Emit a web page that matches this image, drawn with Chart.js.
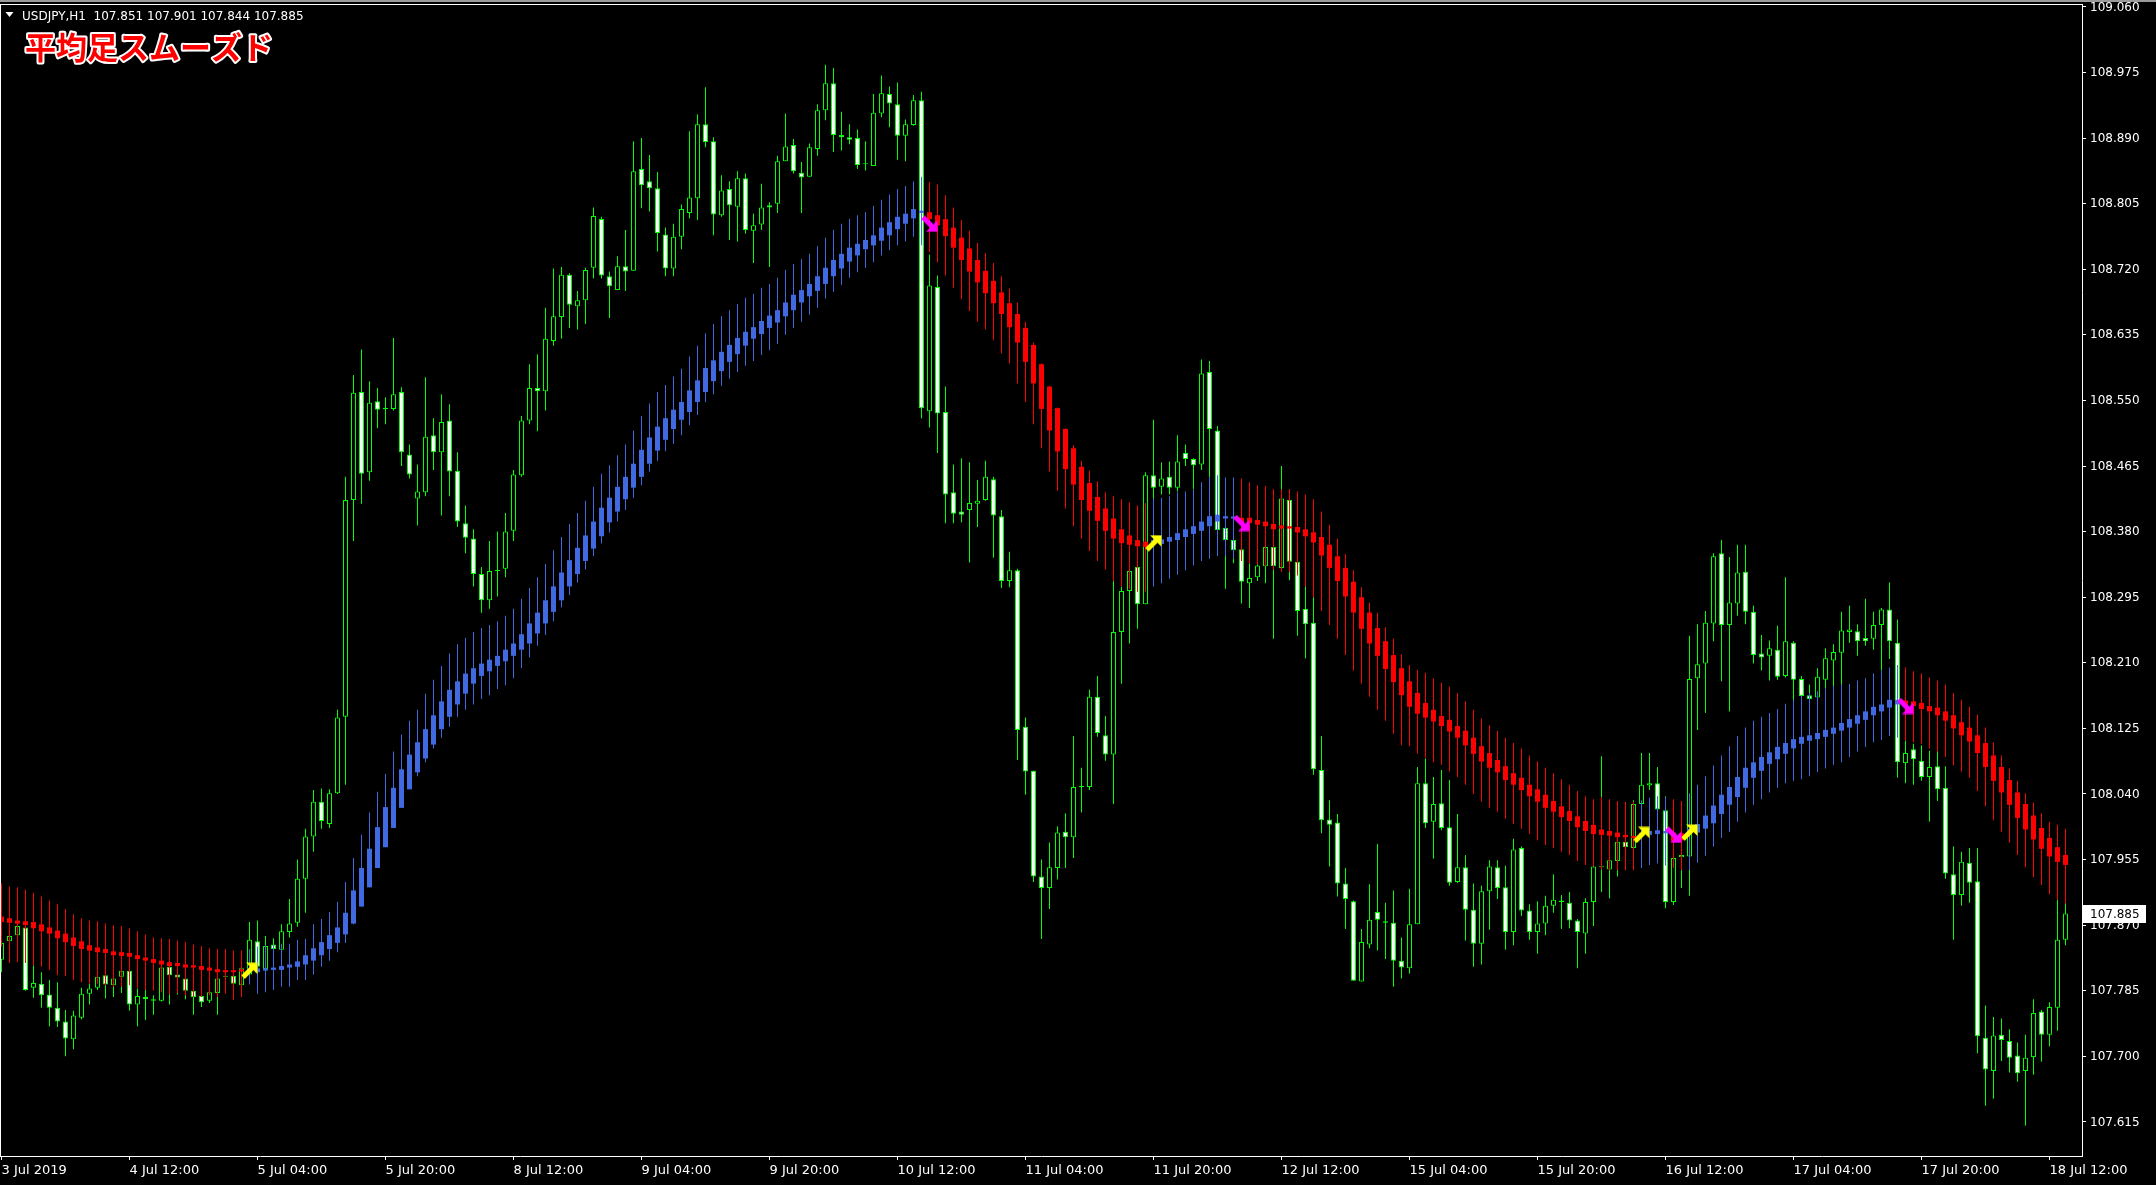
<!DOCTYPE html>
<html>
<head>
<meta charset="utf-8">
<title>USDJPY H1 平均足スムーズド</title>
<script src="https://cdn.jsdelivr.net/npm/chart.js@4.4.0/dist/chart.umd.min.js"></script>
<style>
  html, body { margin: 0; padding: 0; background: #000; overflow: hidden; }
  canvas { display: block; }
</style>
</head>
<body>
<canvas id="chart" width="2156" height="1185"></canvas>
<script>
// USDJPY H1 candles, one value per bar (bar 0 = first bar on screen)
const opens = [
  107.825,107.849,107.857,107.867,107.789,107.794,107.780,107.763,107.745,107.722,
  107.750,107.781,107.789,107.805,107.792,107.803,107.811,107.767,107.777,107.772,
  107.772,107.816,107.806,107.801,107.785,107.778,107.772,107.782,107.803,107.804,
  107.792,107.806,107.849,107.813,107.845,107.838,107.861,107.873,107.930,107.985,
  108.030,108.001,108.041,108.140,108.421,108.561,108.457,108.549,108.539,108.539,
  108.561,108.480,108.423,108.431,108.505,108.483,108.524,108.459,108.391,108.371,
  108.325,108.291,108.329,108.332,108.381,108.453,108.524,108.566,108.562,108.627,
  108.658,108.713,108.672,108.680,108.722,108.785,108.711,108.693,108.724,108.718,
  108.850,108.834,108.825,108.765,108.721,108.762,108.793,108.812,108.908,108.886,
  108.790,108.824,108.801,108.838,108.770,108.778,108.803,108.805,108.860,108.881,
  108.845,108.840,108.876,108.926,108.961,108.894,108.891,108.890,108.856,108.854,
  108.922,108.947,108.934,108.893,108.907,108.939,108.536,108.697,108.535,108.431,
  108.406,108.408,108.416,108.421,108.448,108.400,108.316,108.330,108.127,108.070,
  107.933,107.918,107.944,107.991,107.984,108.049,108.049,108.166,108.116,108.091,
  108.250,108.303,108.334,108.286,108.453,108.438,108.451,108.437,108.482,108.474,
  108.467,108.587,108.511,108.385,108.369,108.357,108.313,108.321,108.335,108.360,
  108.333,108.421,108.341,108.280,108.262,108.071,108.007,108.003,107.924,107.901,
  107.797,107.845,107.887,107.875,107.873,107.824,107.814,107.871,108.054,108.004,
  108.028,107.997,107.926,107.945,107.890,107.846,107.914,107.945,107.919,107.861,
  107.970,107.889,107.861,107.872,107.895,107.902,107.899,107.876,107.859,107.900,
  107.945,107.942,107.953,107.978,107.970,108.027,108.051,108.054,108.019,107.900,
  107.958,107.959,108.190,108.209,108.261,108.352,108.259,108.287,108.328,108.276,
  108.222,108.219,108.227,108.193,108.236,108.189,108.168,108.165,108.188,108.213,
  108.223,108.250,108.251,108.242,108.241,108.259,108.279,108.236,108.080,108.098,
  108.083,108.062,108.076,108.048,107.936,107.909,107.951,107.927,107.724,107.681,
  107.728,107.720,107.701,107.681,107.699,107.758,107.728,107.763,107.851
];
const highs = [
  107.852,107.860,107.872,107.870,107.818,107.809,107.799,107.796,107.760,107.759,
  107.789,107.794,107.812,107.810,107.808,107.816,107.814,107.788,107.787,107.779,
  107.818,107.818,107.809,107.807,107.799,107.780,107.786,107.804,107.807,107.807,
  107.820,107.874,107.876,107.856,107.853,107.871,107.904,107.955,107.995,108.045,
  108.047,108.046,108.149,108.451,108.583,108.616,108.575,108.566,108.554,108.631,
  108.567,108.493,108.467,108.580,108.527,108.558,108.545,108.483,108.414,108.383,
  108.334,108.368,108.380,108.404,108.460,108.530,108.597,108.610,108.670,108.721,
  108.723,108.715,108.692,108.722,108.800,108.788,108.717,108.737,108.771,108.886,
  108.890,108.868,108.846,108.774,108.779,108.804,108.899,108.921,108.956,108.891,
  108.842,108.834,108.847,108.844,108.792,108.831,108.807,108.867,108.922,108.889,
  108.859,108.883,108.934,108.985,108.981,108.924,108.908,108.901,108.886,108.947,
  108.971,108.957,108.962,108.914,108.946,108.950,108.739,108.712,108.568,108.467,
  108.475,108.470,108.447,108.472,108.451,108.408,108.354,108.332,108.139,108.070,
  107.955,107.977,107.998,108.015,108.115,108.074,108.175,108.193,108.141,108.316,
  108.309,108.332,108.336,108.457,108.525,108.470,108.471,108.505,108.493,108.475,
  108.603,108.601,108.517,108.389,108.381,108.362,108.339,108.339,108.367,108.386,
  108.465,108.435,108.348,108.323,108.297,108.115,108.032,108.014,107.944,107.902,
  107.865,107.923,107.975,107.899,107.915,107.854,107.917,108.075,108.086,108.062,
  108.071,108.058,108.014,107.961,107.924,107.921,107.954,107.954,107.947,107.982,
  107.972,107.897,107.901,107.908,107.936,107.909,107.913,107.878,107.905,107.947,
  108.089,107.954,107.979,107.980,108.032,108.093,108.093,108.075,108.037,107.961,
  107.990,108.245,108.260,108.277,108.352,108.369,108.347,108.363,108.363,108.284,
  108.246,108.239,108.258,108.321,108.238,108.193,108.182,108.203,108.229,108.234,
  108.276,108.284,108.260,108.293,108.276,108.281,108.314,108.266,108.110,108.105,
  108.103,108.096,108.096,108.076,107.972,107.965,107.970,107.970,107.766,107.751,
  107.749,107.735,107.718,107.728,107.774,107.760,107.770,107.903,107.901
];
const lows = [
  107.809,107.846,107.853,107.785,107.776,107.763,107.739,107.738,107.700,107.709,
  107.748,107.767,107.786,107.775,107.777,107.782,107.759,107.739,107.747,107.754,
  107.771,107.767,107.780,107.774,107.754,107.764,107.769,107.754,107.796,107.773,
  107.777,107.801,107.799,107.809,107.837,107.837,107.854,107.868,107.886,107.965,
  107.995,107.996,108.040,108.052,108.368,108.416,108.446,108.514,108.519,108.537,
  108.465,108.449,108.388,108.426,108.460,108.401,108.426,108.386,108.352,108.309,
  108.275,108.280,108.296,108.321,108.368,108.451,108.519,108.510,108.537,108.621,
  108.630,108.644,108.642,108.649,108.708,108.708,108.657,108.693,108.692,108.718,
  108.799,108.795,108.743,108.711,108.711,108.746,108.786,108.784,108.878,108.764,
  108.788,108.758,108.756,108.766,108.728,108.771,108.723,108.793,108.860,108.844,
  108.793,108.840,108.867,108.913,108.872,108.874,108.882,108.850,108.848,108.854,
  108.917,108.904,108.862,108.860,108.906,108.527,108.515,108.482,108.391,108.391,
  108.392,108.340,108.386,108.420,108.346,108.307,108.308,108.084,108.039,107.926,
  107.852,107.891,107.929,107.944,107.957,108.016,108.045,108.114,108.083,108.027,
  108.183,108.235,108.254,108.286,108.420,108.428,108.428,108.432,108.465,108.435,
  108.460,108.450,108.375,108.306,108.339,108.287,108.281,108.316,108.313,108.241,
  108.328,108.317,108.245,108.216,108.065,107.989,107.946,107.907,107.865,107.798,
  107.797,107.840,107.837,107.826,107.790,107.801,107.807,107.871,107.996,107.956,
  107.993,107.921,107.925,107.850,107.816,107.819,107.864,107.904,107.838,107.844,
  107.882,107.851,107.833,107.857,107.886,107.865,107.866,107.814,107.833,107.869,
  107.913,107.905,107.933,107.970,107.968,107.982,108.045,108.019,107.892,107.896,
  107.918,107.908,108.123,108.145,108.238,108.186,108.147,108.271,108.260,108.209,
  108.200,108.187,108.188,108.191,108.161,108.162,108.161,108.161,108.175,108.172,
  108.177,108.236,108.219,108.232,108.227,108.200,108.215,108.061,108.054,108.052,
  108.057,108.004,108.031,107.930,107.851,107.895,107.899,107.704,107.636,107.645,
  107.694,107.679,107.667,107.610,107.676,107.693,107.713,107.733,107.844
];
const closes = [
  107.847,107.856,107.869,107.786,107.795,107.779,107.763,107.745,107.723,107.753,
  107.781,107.788,107.803,107.793,107.801,107.811,107.767,107.778,107.774,107.774,
  107.815,107.805,107.802,107.785,107.777,107.770,107.783,107.801,107.803,107.794,
  107.814,107.851,107.816,107.843,107.839,107.862,107.872,107.930,107.985,108.030,
  108.005,108.041,108.139,108.421,108.560,108.455,108.547,108.538,108.539,108.558,
  108.483,108.454,108.432,108.503,108.483,108.522,108.458,108.393,108.372,108.325,
  108.291,108.329,108.329,108.380,108.454,108.524,108.566,108.562,108.630,108.659,
  108.713,108.674,108.680,108.719,108.789,108.712,108.698,108.724,108.717,108.847,
  108.829,108.825,108.767,108.721,108.762,108.798,108.813,108.908,108.885,108.791,
  108.822,108.803,108.838,108.771,108.777,108.800,108.800,108.860,108.879,108.847,
  108.839,108.878,108.926,108.961,108.894,108.891,108.888,108.855,108.856,108.923,
  108.948,108.935,108.893,108.908,108.939,108.540,108.699,108.533,108.428,108.403,
  108.402,108.417,108.420,108.451,108.401,108.316,108.330,108.123,108.069,107.933,
  107.918,107.945,107.990,107.984,108.049,108.049,108.166,108.119,108.091,108.250,
  108.303,108.329,108.286,108.453,108.437,108.449,108.437,108.471,108.474,108.466,
  108.585,108.513,108.382,108.369,108.356,108.315,108.320,108.336,108.360,108.335,
  108.423,108.341,108.277,108.260,108.072,108.006,108.000,107.924,107.904,107.798,
  107.848,107.877,107.877,107.873,107.824,107.815,107.871,108.054,108.002,108.027,
  107.996,107.925,107.945,107.890,107.846,107.914,107.946,107.918,107.861,107.968,
  107.889,107.861,107.872,107.895,107.903,107.900,107.876,107.861,107.900,107.946,
  107.945,107.954,107.978,107.971,108.027,108.052,108.054,108.020,107.900,107.957,
  107.961,108.189,108.208,108.262,108.348,108.259,108.288,108.327,108.276,108.220,
  108.217,108.229,108.192,108.238,108.188,108.167,108.163,108.192,108.216,108.224,
  108.252,108.253,108.238,108.238,108.259,108.279,108.238,108.081,108.093,108.085,
  108.062,108.075,108.046,107.937,107.909,107.952,107.925,107.726,107.683,107.727,
  107.721,107.698,107.678,107.698,107.756,107.728,107.764,107.851,107.885
];

// Heiken Ashi Smoothed indicator values
const haOpen = [
  107.881,107.879,107.876,107.875,107.874,107.871,107.867,107.863,107.859,107.854,
  107.849,107.844,107.841,107.839,107.836,107.835,107.834,107.831,107.828,107.826,
  107.824,107.822,107.821,107.819,107.818,107.817,107.815,107.813,107.811,107.811,
  107.812,107.809,107.809,107.811,107.812,107.812,107.815,107.816,107.819,107.824,
  107.831,107.839,107.847,107.858,107.872,107.894,107.919,107.944,107.971,107.996,
  108.022,108.046,108.068,108.086,108.104,108.124,108.140,108.156,108.170,108.183,
  108.193,108.199,108.206,108.212,108.219,108.227,108.235,108.248,108.261,108.276,
  108.291,108.309,108.325,108.342,108.358,108.374,108.392,108.406,108.422,108.437,
  108.451,108.468,108.485,108.499,108.513,108.525,108.535,108.548,108.561,108.575,
  108.588,108.600,108.610,108.621,108.630,108.636,108.644,108.651,108.659,108.667,
  108.677,108.685,108.692,108.701,108.711,108.721,108.730,108.738,108.746,108.751,
  108.757,108.764,108.772,108.779,108.786,108.793,108.794,108.790,108.785,108.774,
  108.761,108.747,108.732,108.718,108.705,108.690,108.676,108.662,108.644,108.622,
  108.597,108.568,108.540,108.513,108.488,108.464,108.443,108.425,108.410,108.397,
  108.383,108.375,108.369,108.367,108.364,108.364,108.367,108.369,108.373,108.377,
  108.381,108.387,108.393,108.397,108.397,108.398,108.398,108.395,108.393,108.390,
  108.388,108.387,108.386,108.383,108.379,108.373,108.363,108.348,108.333,108.315,
  108.295,108.275,108.255,108.238,108.220,108.203,108.186,108.171,108.158,108.149,
  108.141,108.136,108.128,108.122,108.113,108.102,108.093,108.084,108.076,108.067,
  108.061,108.052,108.046,108.039,108.031,108.024,108.018,108.011,108.005,108.000,
  107.994,107.992,107.990,107.987,107.985,107.986,107.987,107.988,107.989,107.990,
  107.989,107.989,107.990,107.995,108.002,108.014,108.026,108.036,108.048,108.061,
  108.070,108.079,108.085,108.092,108.099,108.105,108.109,108.111,108.114,108.118,
  108.122,108.126,108.131,108.136,108.142,108.147,108.152,108.156,108.161,108.160,
  108.158,108.154,108.152,108.147,108.142,108.133,108.126,108.116,108.106,108.090,
  108.075,108.058,108.042,108.027,108.012,107.996,107.983,107.971,107.961
];
const haClose = [
  107.874,107.873,107.872,107.870,107.866,107.862,107.859,107.853,107.848,107.843,
  107.839,107.837,107.835,107.834,107.831,107.830,107.829,107.826,107.824,107.821,
  107.819,107.817,107.817,107.815,107.815,107.812,107.811,107.809,107.809,107.809,
  107.810,107.814,107.814,107.814,107.815,107.817,107.819,107.823,107.831,107.840,
  107.848,107.857,107.867,107.886,107.915,107.944,107.969,107.997,108.023,108.048,
  108.072,108.091,108.107,108.124,108.142,108.160,108.175,108.186,108.196,108.203,
  108.209,108.214,108.219,108.227,108.235,108.247,108.261,108.275,108.291,108.309,
  108.327,108.343,108.359,108.375,108.393,108.411,108.424,108.438,108.451,108.468,
  108.486,108.502,108.516,108.527,108.538,108.548,108.563,108.576,108.592,108.602,
  108.613,108.622,108.631,108.639,108.645,108.653,108.660,108.667,108.677,108.687,
  108.693,108.701,108.711,108.722,108.732,108.740,108.748,108.753,108.758,108.764,
  108.774,108.781,108.788,108.792,108.798,108.796,108.785,108.777,108.763,108.748,
  108.732,108.717,108.703,108.689,108.676,108.662,108.645,108.625,108.600,108.572,
  108.539,108.511,108.484,108.461,108.441,108.421,108.407,108.394,108.381,108.371,
  108.365,108.363,108.361,108.360,108.369,108.370,108.373,108.378,108.383,108.387,
  108.393,108.400,108.402,108.400,108.399,108.392,108.391,108.389,108.387,108.383,
  108.384,108.384,108.379,108.374,108.366,108.349,108.333,108.316,108.296,108.275,
  108.254,108.235,108.219,108.202,108.185,108.168,108.153,108.144,108.139,108.134,
  108.128,108.121,108.113,108.103,108.092,108.082,108.074,108.068,108.058,108.052,
  108.045,108.037,108.030,108.022,108.017,108.010,108.005,107.997,107.992,107.988,
  107.987,107.986,107.984,107.984,107.983,107.989,107.992,107.993,107.992,107.979,
  107.980,107.995,108.001,108.012,108.025,108.039,108.049,108.062,108.074,108.081,
  108.088,108.094,108.101,108.106,108.111,108.114,108.116,108.119,108.123,108.126,
  108.132,108.137,108.142,108.147,108.153,108.156,108.162,108.162,108.155,108.154,
  108.150,108.147,108.142,108.135,108.125,108.116,108.108,108.093,108.075,108.057,
  108.042,108.026,108.009,107.994,107.981,107.969,107.959,107.952,107.948
];
const haHigh = [
  107.924,107.920,107.919,107.916,107.912,107.907,107.902,107.897,107.891,107.884,
  107.879,107.876,107.875,107.872,107.870,107.869,107.866,107.862,107.858,107.854,
  107.853,107.852,107.850,107.848,107.845,107.843,107.840,107.839,107.839,107.837,
  107.837,107.839,107.842,107.844,107.844,107.846,107.846,107.851,107.852,107.871,
  107.878,107.887,107.900,107.926,107.957,107.987,108.016,108.043,108.066,108.095,
  108.117,108.135,108.149,108.170,108.188,108.206,108.222,108.234,108.242,108.250,
  108.255,108.259,108.264,108.271,108.280,108.293,108.307,108.321,108.338,108.356,
  108.373,108.390,108.404,108.420,108.438,108.455,108.466,108.479,108.493,108.511,
  108.530,108.546,108.561,108.570,108.581,108.591,108.607,108.621,108.637,108.649,
  108.659,108.667,108.675,108.683,108.688,108.696,108.701,108.709,108.719,108.727,
  108.733,108.740,108.750,108.761,108.771,108.779,108.785,108.790,108.794,108.802,
  108.810,108.817,108.824,108.828,108.834,108.840,108.833,108.830,108.816,108.800,
  108.784,108.770,108.754,108.741,108.728,108.711,108.695,108.677,108.652,108.625,
  108.598,108.569,108.541,108.514,108.492,108.472,108.459,108.445,108.431,108.426,
  108.422,108.418,108.414,108.417,108.423,108.424,108.426,108.431,108.432,108.435,
  108.444,108.450,108.453,108.450,108.450,108.449,108.444,108.440,108.439,108.435,
  108.435,108.435,108.432,108.428,108.422,108.406,108.389,108.371,108.351,108.330,
  108.308,108.288,108.275,108.256,108.241,108.221,108.207,108.201,108.197,108.190,
  108.184,108.179,108.171,108.160,108.149,108.138,108.129,108.122,108.113,108.106,
  108.099,108.090,108.082,108.074,108.067,108.059,108.052,108.044,108.037,108.033,
  108.036,108.033,108.031,108.030,108.030,108.032,108.035,108.037,108.036,108.033,
  108.031,108.041,108.052,108.063,108.077,108.090,108.102,108.115,108.126,108.135,
  108.140,108.145,108.150,108.157,108.162,108.167,108.171,108.173,108.177,108.180,
  108.182,108.183,108.187,108.190,108.196,108.200,108.204,108.207,108.204,108.199,
  108.196,108.191,108.187,108.182,108.171,108.162,108.153,108.143,108.126,108.107,
  108.090,108.073,108.057,108.041,108.029,108.015,108.004,108.000,107.995
];
const haLow = [
  107.842,107.821,107.822,107.821,107.818,107.816,107.812,107.805,107.804,107.799,
  107.796,107.794,107.794,107.792,107.790,107.790,107.792,107.789,107.786,107.785,
  107.783,107.780,107.782,107.779,107.777,107.777,107.779,107.777,107.781,107.773,
  107.777,107.793,107.781,107.783,107.786,107.790,107.790,107.799,107.799,107.806,
  107.816,107.824,107.835,107.847,107.871,107.894,107.919,107.944,107.971,107.996,
  108.022,108.046,108.063,108.081,108.099,108.113,108.127,108.140,108.149,108.156,
  108.163,108.168,108.176,108.181,108.190,108.203,108.217,108.232,108.246,108.264,
  108.282,108.298,108.314,108.331,108.348,108.365,108.379,108.393,108.408,108.424,
  108.440,108.458,108.472,108.484,108.494,108.505,108.518,108.531,108.548,108.558,
  108.569,108.578,108.587,108.595,108.601,108.609,108.615,108.623,108.635,108.644,
  108.652,108.661,108.670,108.682,108.691,108.700,108.709,108.716,108.722,108.729,
  108.738,108.745,108.751,108.756,108.762,108.751,108.742,108.729,108.712,108.696,
  108.681,108.666,108.652,108.642,108.628,108.611,108.598,108.572,108.548,108.519,
  108.488,108.458,108.433,108.410,108.387,108.371,108.355,108.342,108.331,108.316,
  108.309,108.306,108.302,108.302,108.309,108.313,108.319,108.324,108.330,108.336,
  108.342,108.345,108.348,108.348,108.345,108.342,108.339,108.337,108.335,108.331,
  108.328,108.328,108.323,108.309,108.295,108.277,108.259,108.241,108.220,108.200,
  108.183,108.166,108.149,108.135,108.118,108.103,108.102,108.092,108.087,108.081,
  108.078,108.069,108.062,108.052,108.040,108.030,108.022,108.017,108.008,108.001,
  107.995,107.988,107.980,107.974,107.970,107.965,107.961,107.953,107.948,107.946,
  107.942,107.941,107.941,107.941,107.941,107.944,107.948,107.950,107.947,107.944,
  107.941,107.941,107.951,107.960,107.972,107.983,107.991,108.004,108.016,108.026,
  108.033,108.042,108.048,108.054,108.057,108.059,108.063,108.068,108.073,108.078,
  108.081,108.088,108.095,108.101,108.107,108.110,108.115,108.113,108.109,108.107,
  108.105,108.099,108.095,108.088,108.077,108.069,108.061,108.044,108.024,108.006,
  107.991,107.977,107.961,107.945,107.932,107.922,107.910,107.903,107.898
];

// trend change arrows (bar index, price)
const upArrowBars = [31, 144, 205, 211];
const upArrowPrices = [107.811, 108.365, 107.987, 107.990];
const downArrowBars = [116, 155, 209, 238];
const downArrowPrices = [108.779, 108.391, 107.987, 108.154];

// axes
const timeTickBars = [0, 16, 32, 48, 64, 80, 96, 112, 128, 144, 160, 176, 192, 208, 224, 240, 256];
const timeLabels = ['3 Jul 2019', '4 Jul 12:00', '5 Jul 04:00', '5 Jul 20:00', '8 Jul 12:00', '9 Jul 04:00',
  '9 Jul 20:00', '10 Jul 12:00', '11 Jul 04:00', '11 Jul 20:00', '12 Jul 12:00', '15 Jul 04:00',
  '15 Jul 20:00', '16 Jul 12:00', '17 Jul 04:00', '17 Jul 20:00', '18 Jul 12:00'];
const priceTicks = [107.615, 107.700, 107.785, 107.870, 107.955, 108.040, 108.125, 108.210, 108.295,
  108.380, 108.465, 108.550, 108.635, 108.720, 108.805, 108.890, 108.975, 109.060];

const CANDLE_GREEN = '#00ff00';
const HA_BLUE = '#4169e1';
const HA_RED = '#ff0000';
const AXIS_FONT = { family: 'DejaVu Sans', size: 13 };

// arrow glyphs (up-right / down-right)
function makeArrow(color, down) {
  const c = document.createElement('canvas');
  c.width = 17; c.height = 17;
  const g = c.getContext('2d');
  if (down) { g.translate(0, 17); g.scale(1, -1); }
  g.fillStyle = color;
  g.strokeStyle = color;
  g.beginPath();
  g.moveTo(16.5, 0.5);
  g.lineTo(5, 0.5);
  g.lineTo(16.5, 12);
  g.closePath();
  g.fill();
  g.lineWidth = 5;
  g.beginPath();
  g.moveTo(11.5, 5.5);
  g.lineTo(2, 15);
  g.stroke();
  return c;
}

const idx = opens.map((v, i) => i);
const haColors = idx.map(i => haClose[i] >= haOpen[i] ? HA_BLUE : HA_RED);

const backgroundPlugin = {
  id: 'background',
  beforeDraw(chart) {
    const ctx = chart.ctx;
    ctx.save();
    ctx.fillStyle = '#000';
    ctx.fillRect(0, 0, chart.width, chart.height);
    ctx.restore();
  }
};

const overlayPlugin = {
  id: 'overlay',
  afterDraw(chart) {
    const ctx = chart.ctx;
    const area = chart.chartArea;
    const y = chart.scales.y;
    const right = Math.round(area.right);
    ctx.save();
    // frame
    ctx.fillStyle = '#9a9a9a';
    ctx.fillRect(0, 0, chart.width, 2);
    ctx.fillStyle = '#fff';
    ctx.fillRect(0, Math.round(area.top), right + 1, 1);
    ctx.fillRect(0, Math.round(area.top), 1, Math.round(area.bottom - area.top));

    // price scale labels, placed with the y scale
    ctx.font = '12px "DejaVu Sans"';
    ctx.textBaseline = 'middle';
    ctx.textAlign = 'left';
    priceTicks.forEach(v => {
      ctx.fillText(v.toFixed(3), right + 8, y.getPixelForValue(v) + 0.5);
    });

    // current price tag
    const last = closes[closes.length - 1];
    const py = Math.round(y.getPixelForValue(last));
    ctx.fillStyle = '#fff';
    ctx.fillRect(right + 1, py - 9, 63, 18);
    ctx.fillStyle = '#000';
    ctx.fillText(last.toFixed(3), right + 8, py + 1);

    // symbol line
    const n = opens.length - 1;
    ctx.fillStyle = '#fff';
    ctx.beginPath();
    ctx.moveTo(5.5, 12); ctx.lineTo(13.5, 12); ctx.lineTo(9.5, 17);
    ctx.closePath(); ctx.fill();
    ctx.textBaseline = 'alphabetic';
    ctx.fillText('USDJPY,H1  ' + [opens[n], highs[n], lows[n], closes[n]].map(v => v.toFixed(3)).join(' '), 22, 20);

    // indicator title
    ctx.font = 'bold 31px "Noto Sans CJK JP"';
    ctx.textBaseline = 'middle';
    ctx.lineJoin = 'round';
    ctx.lineWidth = 4;
    ctx.strokeStyle = '#fff';
    ctx.strokeText('平均足スムーズド', 25, 47);
    ctx.fillStyle = '#ff0000';
    ctx.fillText('平均足スムーズド', 25, 47);
    ctx.restore();
  }
};

const barCommon = { grouped: false, inflateAmount: 0, borderSkipped: false };

new Chart(document.getElementById('chart'), {
  type: 'bar',
  data: {
    datasets: [
      {
        ...barCommon,
        label: 'wick',
        data: idx.map(i => ({ x: i, y: [lows[i], highs[i]] })),
        backgroundColor: CANDLE_GREEN,
        barThickness: 1,
        order: 6
      },
      {
        ...barCommon,
        label: 'body',
        data: idx.map(i => ({ x: i, y: [opens[i], closes[i]] })),
        backgroundColor: idx.map(i => closes[i] < opens[i] ? '#ffffff' : '#000000'),
        borderColor: CANDLE_GREEN,
        borderWidth: 1,
        barThickness: 5,
        minBarLength: 1,
        order: 5
      },
      {
        ...barCommon,
        label: 'HA range',
        data: idx.map(i => ({ x: i, y: [haLow[i], haHigh[i]] })),
        backgroundColor: haColors,
        barThickness: 1,
        order: 4
      },
      {
        ...barCommon,
        label: 'HA body',
        data: idx.map(i => ({ x: i, y: [haOpen[i], haClose[i]] })),
        backgroundColor: haColors,
        barThickness: 5,
        minBarLength: 2,
        order: 3
      },
      {
        type: 'scatter',
        label: 'up',
        data: upArrowBars.map((b, k) => ({ x: b, y: upArrowPrices[k] })),
        pointStyle: makeArrow('#ffff00', false),
        order: 2
      },
      {
        type: 'scatter',
        label: 'down',
        data: downArrowBars.map((b, k) => ({ x: b, y: downArrowPrices[k] })),
        pointStyle: makeArrow('#ff00ff', true),
        order: 1
      }
    ]
  },
  options: {
    responsive: false,
    devicePixelRatio: 1,
    animation: false,
    events: [],
    layout: { autoPadding: false, padding: { top: 4, left: 0, right: 0, bottom: 0 } },
    plugins: {
      legend: { display: false },
      tooltip: { enabled: false },
      title: { display: false }
    },
    scales: {
      x: {
        type: 'linear',
        offset: false,
        bounds: 'data',
        min: -0.1875,
        max: 260.0625,
        afterBuildTicks: s => { s.ticks = timeTickBars.map(v => ({ value: v })); },
        afterFit: s => { s.height = 29; s.paddingLeft = 0; s.paddingRight = 0; },
        ticks: {
          callback: (v, i) => timeLabels[i],
          color: '#ffffff',
          font: AXIS_FONT,
          align: 'start',
          labelOffset: 0,
          padding: 3,
          maxRotation: 0,
          minRotation: 0,
          autoSkip: false
        },
        grid: { offset: false, drawOnChartArea: false, drawTicks: true, tickLength: 4, color: '#ffffff' },
        border: { display: true, color: '#ffffff' }
      },
      y: {
        type: 'linear',
        position: 'right',
        bounds: 'data',
        min: 107.5708,
        max: 109.0638,
        afterBuildTicks: s => { s.ticks = priceTicks.map(v => ({ value: v })); },
        afterFit: s => { s.width = 74; s.paddingTop = 0; s.paddingBottom = 0; },
        ticks: { display: false },
        grid: { drawOnChartArea: false, drawTicks: true, tickLength: 4, color: '#ffffff' },
        border: { display: true, color: '#ffffff' }
      }
    }
  },
  plugins: [backgroundPlugin, overlayPlugin]
});
</script>
</body>
</html>
